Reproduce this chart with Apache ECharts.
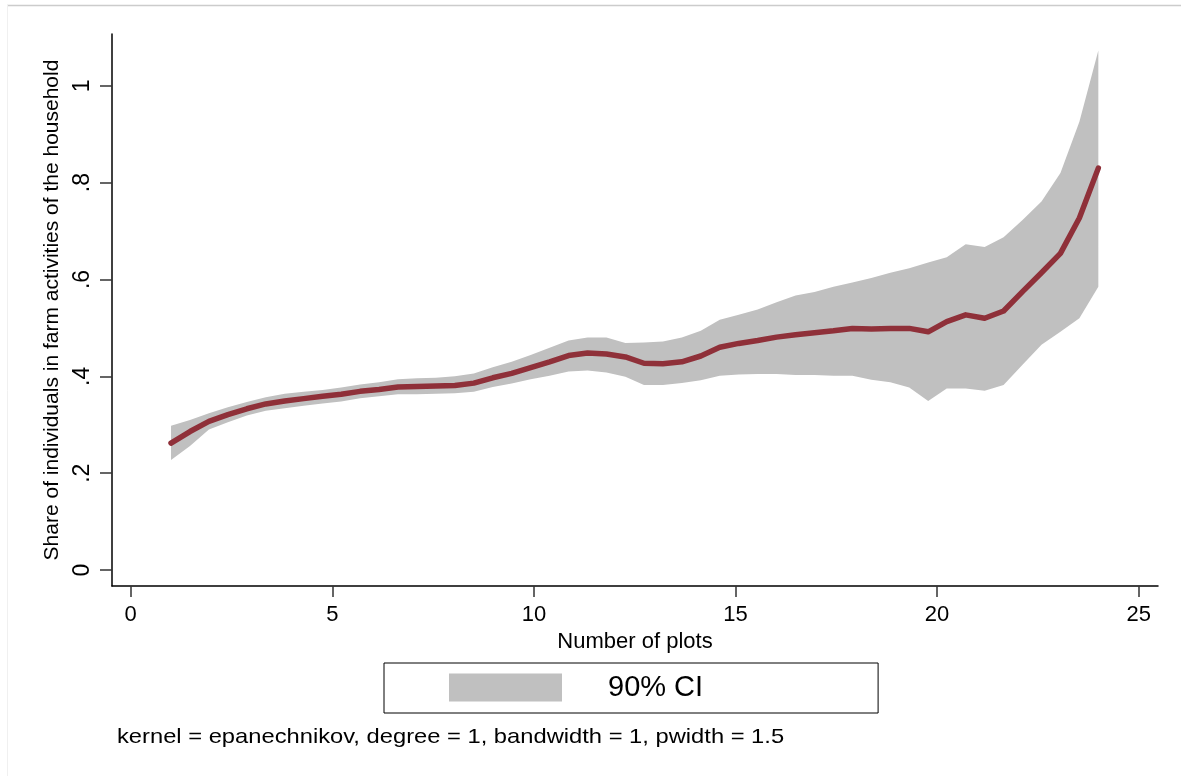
<!DOCTYPE html>
<html>
<head>
<meta charset="utf-8">
<script src="https://cdn.jsdelivr.net/npm/echarts@6/dist/echarts.min.js"></script>
<style>
html,body{margin:0;padding:0;background:#fff;}
#chart{width:1181px;height:776px;}
</style>
</head>
<body>
<div id="chart"></div>
<script>
// Evaluation grid (number of plots)
var plots = [1.00,1.47,1.94,2.41,2.88,3.35,3.82,4.29,4.76,5.22,
             5.69,6.16,6.63,7.10,7.57,8.04,8.51,8.98,9.45,9.92,
             10.39,10.86,11.33,11.80,12.27,12.73,13.20,13.67,14.14,14.61,
             15.08,15.55,16.02,16.49,16.96,17.43,17.90,18.37,18.84,19.31,
             19.78,20.24,20.71,21.18,21.65,22.12,22.59,23.06,23.53,24.00];
// Local polynomial smooth
var share = [0.262,0.286,0.307,0.321,0.333,0.343,0.349,0.354,0.359,0.363,
             0.369,0.373,0.378,0.379,0.380,0.381,0.386,0.397,0.406,0.418,
             0.430,0.443,0.448,0.446,0.440,0.427,0.426,0.430,0.442,0.460,
             0.468,0.474,0.481,0.486,0.490,0.494,0.499,0.498,0.499,0.499,
             0.492,0.513,0.527,0.520,0.535,0.575,0.614,0.654,0.727,0.830];
// 90% CI upper bound
var ciHigh = [0.298,0.310,0.324,0.336,0.347,0.357,0.364,0.368,0.372,0.377,
              0.383,0.388,0.394,0.396,0.397,0.400,0.406,0.419,0.430,0.444,
              0.459,0.474,0.480,0.480,0.469,0.470,0.472,0.480,0.494,0.517,
              0.527,0.538,0.553,0.567,0.574,0.585,0.594,0.603,0.614,0.623,
              0.635,0.646,0.673,0.667,0.687,0.723,0.761,0.820,0.926,1.073];
// 90% CI lower bound
var ciLow = [0.227,0.256,0.290,0.305,0.319,0.329,0.334,0.339,0.344,0.348,
             0.355,0.359,0.363,0.363,0.364,0.365,0.368,0.378,0.385,0.394,
             0.401,0.410,0.412,0.408,0.399,0.382,0.382,0.386,0.392,0.401,
             0.404,0.405,0.405,0.403,0.403,0.401,0.401,0.393,0.388,0.377,
             0.349,0.375,0.375,0.370,0.382,0.424,0.465,0.492,0.520,0.585];
var xTicks = [0,5,10,15,20,25];
var yTicks = [0,0.2,0.4,0.6,0.8,1];
var yTickLabels = ['0','.2','.4','.6','.8','1'];

var FONT = '"Liberation Sans", Arial, Helvetica, sans-serif';
var chart = echarts.init(document.getElementById('chart'), null, {renderer:'canvas'});

var bandData = plots.map(function(x,i){ return [x, ciLow[i], ciHigh[i]]; });
var lineData = plots.map(function(x,i){ return [x, share[i]]; });

var option = {
  backgroundColor: '#ffffff',
  animation: false,
  textStyle: {fontFamily: FONT, color:'#000'},
  grid: {left:112, right:23, top:34, bottom:190, containLabel:false},
  xAxis: {
    type:'value', min:-0.464, max:25.48,
    name:'Number of plots', nameLocation:'middle', nameGap:45,
    nameTextStyle:{fontFamily:FONT, fontSize:22, color:'#000'},
    axisLine:{onZero:false, lineStyle:{color:'#000', width:1.5}},
    axisTick:{show:true, length:11, customValues:xTicks, lineStyle:{color:'#333', width:1.5}},
    axisLabel:{customValues:xTicks, margin:18, fontFamily:FONT, fontSize:22, color:'#000'},
    splitLine:{show:false}
  },
  yAxis: {
    type:'value', min:-0.033, max:1.107,
    name:'Share of individuals in farm activities of the household',
    nameLocation:'middle', nameGap:44,
    nameTextStyle:{fontFamily:FONT, fontSize:21, color:'#000'},
    axisLine:{show:true, onZero:false, lineStyle:{color:'#000', width:1.5}},
    axisTick:{show:true, length:12, customValues:yTicks, lineStyle:{color:'#333', width:1.5}},
    axisLabel:{customValues:yTicks, rotate:90, margin:18, fontFamily:FONT, fontSize:23, color:'#000',
      formatter:function(v){ var i = yTicks.indexOf(v); return i>=0 ? yTickLabels[i] : ''; }},
    splitLine:{show:false}
  },
  legend: {
    show:true, left:384, top:663,
    padding:[10,175,11,65],
    borderColor:'#000', borderWidth:1,
    itemWidth:113, itemHeight:28, icon:'rect',
    data:[{name:'90% CI', icon:'rect', itemStyle:{color:'#c0c0c0'}}],
    textStyle:{fontFamily:FONT, fontSize:29, color:'#000', lineHeight:28, padding:[0,0,0,41]},
    selectedMode:false
  },
  graphic: [
    {type:'line', shape:{x1:7, y1:5.5, x2:1181, y2:5.5}, style:{stroke:'#cccccc', lineWidth:1.5}, silent:true},
    {type:'line', shape:{x1:7.5, y1:5, x2:7.5, y2:776}, style:{stroke:'#f0f0f0', lineWidth:1}, silent:true},
    {type:'text', x:117, y:727, scaleX:1.13, originX:0, originY:0,
     style:{text:'kernel = epanechnikov, degree = 1, bandwidth = 1, pwidth = 1.5', font:'21px "Liberation Sans", Arial, sans-serif', fill:'#000'}}
  ],
  series: [
    {
      type:'custom', name:'90% CI',
      data: bandData,
      encode:{x:0, y:[1,2]},
      itemStyle:{color:'#c0c0c0'},
      z:1,
      renderItem:function(params, api){
        if (params.dataIndex !== 0) return null;
        var pts = [];
        for (var i=0;i<plots.length;i++) pts.push(api.coord([plots[i], ciHigh[i]]));
        for (var j=plots.length-1;j>=0;j--) pts.push(api.coord([plots[j], ciLow[j]]));
        return {type:'polygon', shape:{points:pts}, style:{fill:'#c0c0c0', stroke:null}};
      }
    },
    {
      type:'line', name:'lpoly smooth', data: lineData,
      showSymbol:false, symbol:'none', smooth:false,
      lineStyle:{color:'#8f3039', width:5.5, cap:'round', join:'round'},
      itemStyle:{color:'#8f3039'},
      z:3
    }
  ]
};
chart.setOption(option);
</script>
</body>
</html>
